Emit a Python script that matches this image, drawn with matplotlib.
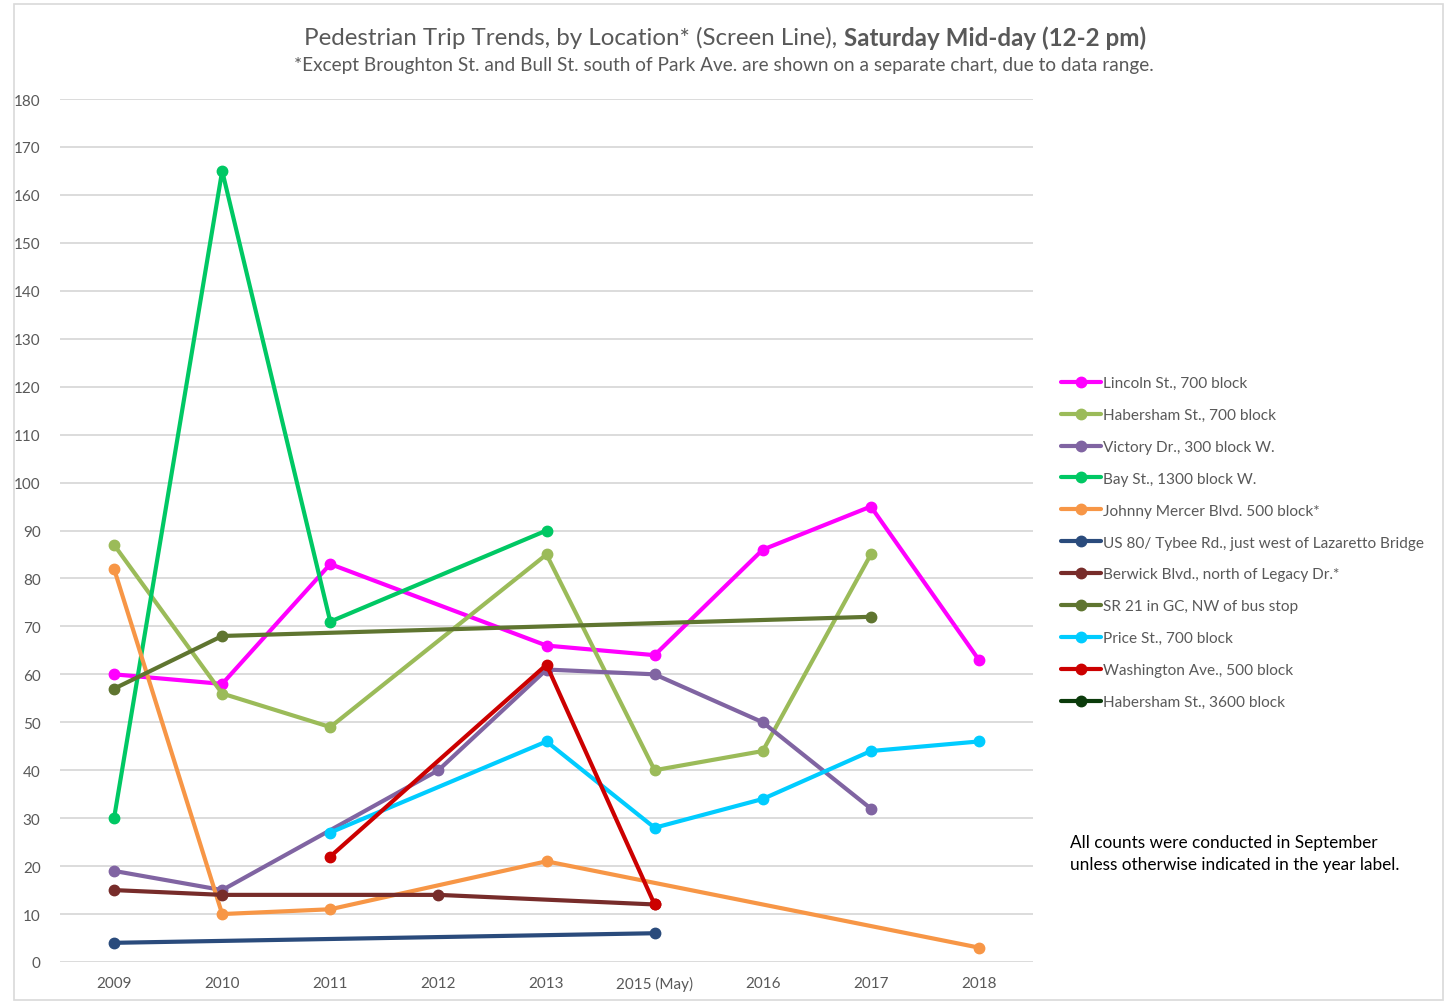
import matplotlib
matplotlib.use("Agg")
import matplotlib.pyplot as plt
from matplotlib.patches import Rectangle

plt.rcParams['font.family'] = ['Lato', 'DejaVu Sans']

categories = ["2009", "2010", "2011", "2012", "2013", "2015 (May)", "2016", "2017", "2018"]

lincoln = [60, 58, 83, None, 66, 64, 86, 95, 63]
habersham700 = [87, 56, 49, None, 85, 40, 44, 85, None]
victory = [19, 15, None, 40, 61, 60, 50, 32, None]
bay = [30, 165, 71, None, 90, None, None, None, None]
johnny_mercer = [82, 10, 11, None, 21, None, None, None, 3]
us80 = [4, None, None, None, None, 6, None, None, None]
berwick = [15, 14, None, 14, None, 12, None, None, None]
sr21 = [57, 68, None, None, None, None, None, 72, None]
price = [None, None, 27, None, 46, 28, 34, 44, 46]
washington = [None, None, 22, None, 62, 12, None, None, None]
habersham3600 = [None] * 9

series_names = [
    "Lincoln St., 700 block",
    "Habersham St., 700 block",
    "Victory Dr., 300 block W.",
    "Bay St., 1300 block W.",
    "Johnny Mercer Blvd. 500 block*",
    "US 80/ Tybee Rd., just west of Lazaretto Bridge",
    "Berwick Blvd., north of Legacy Dr.*",
    "SR 21 in GC, NW of bus stop",
    "Price St., 700 block",
    "Washington Ave., 500 block",
    "Habersham St., 3600 block",
]
series_values = [lincoln, habersham700, victory, bay, johnny_mercer, us80,
                 berwick, sr21, price, washington, habersham3600]
colors = ["#FF00FF", "#9BBB59", "#8064A2", "#00C864", "#F79646", "#2A4B7C",
          "#772C2A", "#5F7530", "#00CCFF", "#CC0000", "#0B3B0B"]

W, H = 1450, 1003
fig = plt.figure(figsize=(14.5, 10.03), dpi=100)
ax = fig.add_axes([60/W, 1-963/H, (1033-60)/W, (963-100)/H])

x_idx = list(range(len(categories)))
handles = []
for name, vals, c in zip(series_names, series_values, colors):
    xs = [i for i, v in zip(x_idx, vals) if v is not None]
    ys = [v for v in vals if v is not None]
    h, = ax.plot(xs, ys, color=c, lw=3, marker='o', markersize=7.5,
                 solid_capstyle='round', label=name, zorder=3)
    handles.append(h)

ax.set_xlim(-0.5, len(categories) - 0.5)
ax.set_ylim(0, 180)
ax.set_yticks(range(0, 181, 10))
ax.set_xticks(x_idx)
ax.set_xticklabels(categories)
ax.grid(axis='y', color='#D9D9D9', lw=1.3, zorder=0)
for s in ax.spines.values():
    s.set_visible(False)
ax.tick_params(axis='both', length=0, labelsize=11, labelcolor='#595959')
ax.tick_params(axis='y', pad=14)
ax.tick_params(axis='x', pad=10)

# Title (normal + bold parts), centred as a whole
ty = 1 - 38/H
t1 = fig.text(0.2, ty, "Pedestrian Trip Trends, by Location* (Screen Line), ",
              fontsize=17.4, color='#595959', ha='left', va='center')
t2 = fig.text(0.6, ty, "Saturday Mid-day (12-2 pm)",
              fontsize=17.4, color='#595959', fontweight='bold', ha='left', va='center')
fig.canvas.draw()
r = fig.canvas.get_renderer()
w1 = t1.get_window_extent(r).width
w2 = t2.get_window_extent(r).width
start = 725 - (w1 + w2) / 2
t1.set_x(start / W)
t2.set_x((start + w1) / W)

fig.text(724/W, 1-65/H,
         "*Except Broughton St. and Bull St. south of Park Ave. are shown on a separate chart, due to data range.",
         fontsize=13.7, color='#595959', ha='center', va='center')

fig.legend(handles=handles, labels=series_names, loc='upper left',
           bbox_to_anchor=(1055/W, 1-371/H), frameon=False,
           fontsize=11.1, labelcolor='#595959', handlelength=2.6,
           handletextpad=0.1, labelspacing=1.16, borderaxespad=0)

fig.text(1070/W, 1-854/H,
         "All counts were conducted in September\nunless otherwise indicated in the year label.",
         fontsize=12.4, color='black', ha='left', va='center', linespacing=1.4)

fig.patches.append(Rectangle((14/W, 2/H), (1443-14)/W, (H-7)/H,
                             transform=fig.transFigure, fill=False,
                             edgecolor='#D9D9D9', lw=1.2))

fig.savefig("out.png", dpi=100)
